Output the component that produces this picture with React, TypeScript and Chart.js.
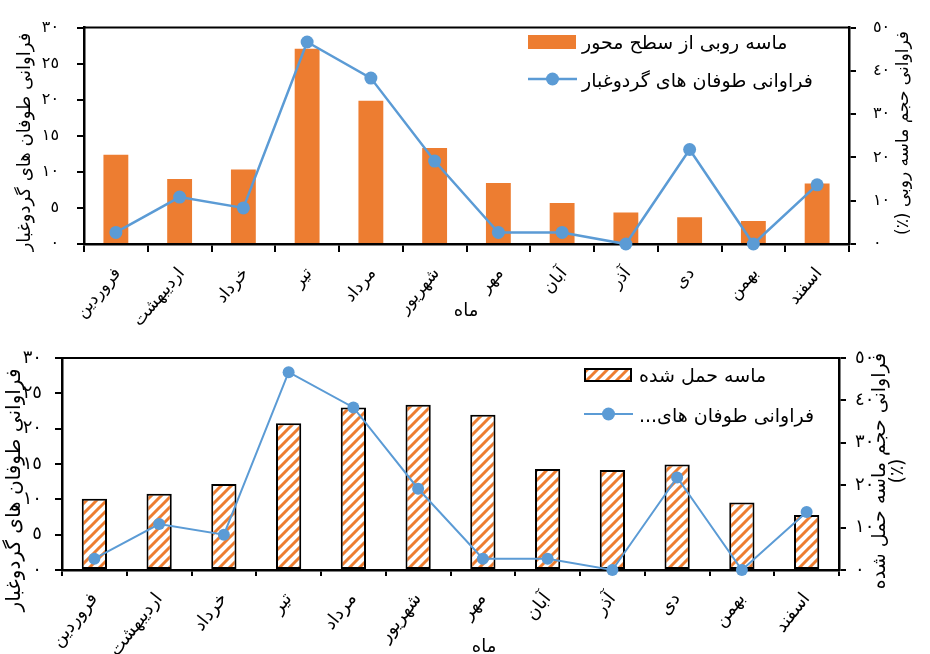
import React, { useEffect, useRef } from 'react';
import { Chart, registerables } from 'chart.js';

Chart.register(...registerables);

// ---- data ----
const months = ['فروردین', 'اردیبهشت', 'خرداد', 'تیر', 'مرداد', 'شهریور', 'مهر', 'آبان', 'آذر', 'دی', 'بهمن', 'اسفند'];
const stormFrequency = [1.6, 6.5, 5, 28, 23, 11.5, 1.6, 1.6, 0, 13.1, 0, 8.2];
const surfaceSandRemoval = [20.6, 15.0, 17.2, 45.1, 33.1, 22.2, 14.1, 9.5, 7.3, 6.2, 5.3, 14.0];
const carriedSand = [16.8, 18.0, 20.3, 34.6, 38.3, 39.0, 36.6, 23.8, 23.6, 24.9, 15.9, 13.0];

const topBarLabel = 'ماسه روبی از سطح محور';
const topLineLabel = 'فراوانی طوفان های گردوغبار';
const botBarLabel = 'ماسه حمل شده';
const botLineLabel = 'فراوانی طوفان های...';
const leftTitle = 'فراوانی طوفان های گردوغبار';
const topRightTitle = 'فراوانی حجم ماسه روبی (٪)';
const botRightTitle1 = 'فراوانی حجم ماسه حمل شده';
const botRightTitle2 = '(٪)';
const xTitle = 'ماه';

const ORANGE = '#ED7D31';
const BLUE = '#5B9BD5';
const FONT = "'DejaVu Sans', 'Liberation Serif', serif";

const toFa = (v: number | string) => String(v).replace(/\d/g, (d) => '٠١٢٣٤٥٦٧٨٩'[+d]);

function makePattern(): CanvasPattern | string {
  const c = document.createElement('canvas');
  c.width = 10;
  c.height = 10;
  const g = c.getContext('2d');
  if (!g) return ORANGE;
  g.fillStyle = '#fff';
  g.fillRect(0, 0, 10, 10);
  g.strokeStyle = ORANGE;
  g.lineWidth = 3;
  g.beginPath();
  g.moveTo(0, 10); g.lineTo(10, 0);
  g.moveTo(-5, 5); g.lineTo(5, -5);
  g.moveTo(5, 15); g.lineTo(15, 5);
  g.stroke();
  return g.createPattern(c, 'repeat') || ORANGE;
}

function vText(ctx: CanvasRenderingContext2D, text: string, x: number, y: number, size: number) {
  ctx.save();
  ctx.translate(x, y);
  ctx.rotate(-Math.PI / 2);
  ctx.font = `${size}px ${FONT}`;
  (ctx as any).direction = 'rtl';
  ctx.textAlign = 'center';
  ctx.textBaseline = 'middle';
  ctx.fillStyle = '#000';
  ctx.fillText(text, 0, 0);
  ctx.restore();
}

function hText(ctx: CanvasRenderingContext2D, text: string, x: number, y: number, size: number, align: CanvasTextAlign) {
  ctx.save();
  ctx.font = `${size}px ${FONT}`;
  (ctx as any).direction = 'rtl';
  ctx.textAlign = align;
  ctx.textBaseline = 'middle';
  ctx.fillStyle = '#000';
  ctx.fillText(text, x, y);
  ctx.restore();
}

interface OverlayOpts {
  leftTitleX: number; leftTitleY: number; leftTitleSize: number;
  right1X: number; right1Y: number; right1Text: string;
  right2X?: number; right2Text?: string; rightSize: number;
  xTitleX: number; xTitleY: number;
  legX: number; legY1: number; legY2: number; legTextX: number; legSize: number;
  barLabel: string; lineLabel: string; barFill: any; barBorder: boolean; dotR: number; lineW: number;
}

function overlayPlugin(o: OverlayOpts) {
  return {
    id: 'overlay',
    afterDraw(chart: any) {
      const ctx: CanvasRenderingContext2D = chart.ctx;
      const a = chart.chartArea;
      ctx.save();
      ctx.strokeStyle = '#000';
      ctx.lineWidth = 2;
      ctx.beginPath();
      ctx.moveTo(a.left, a.top);
      ctx.lineTo(a.right, a.top);
      ctx.stroke();
      ctx.restore();
      vText(ctx, leftTitle, o.leftTitleX, o.leftTitleY, o.leftTitleSize);
      vText(ctx, o.right1Text, o.right1X, o.right1Y, o.rightSize);
      if (o.right2Text && o.right2X) vText(ctx, o.right2Text, o.right2X, o.right1Y, o.rightSize);
      hText(ctx, xTitle, o.xTitleX, o.xTitleY, 18, 'center');
      ctx.save();
      ctx.fillStyle = o.barFill;
      ctx.fillRect(o.legX, o.legY1 - 7, 48, 14);
      if (o.barBorder) {
        ctx.strokeStyle = '#000';
        ctx.lineWidth = 2;
        ctx.strokeRect(o.legX + 1, o.legY1 - 6, 46, 12);
      }
      ctx.strokeStyle = BLUE;
      ctx.lineWidth = o.lineW;
      ctx.beginPath();
      ctx.moveTo(o.legX, o.legY2);
      ctx.lineTo(o.legX + 49, o.legY2);
      ctx.stroke();
      ctx.fillStyle = BLUE;
      ctx.beginPath();
      ctx.arc(o.legX + 24.5, o.legY2, o.dotR, 0, Math.PI * 2);
      ctx.fill();
      ctx.restore();
      hText(ctx, o.barLabel, o.legTextX, o.legY1 + 2, o.legSize, 'left');
      hText(ctx, o.lineLabel, o.legTextX, o.legY2 + 3, o.legSize, 'left');
    },
  };
}

interface CfgOpts {
  barData: number[]; barLabel: string; lineLabel: string; barFill: any; barBorder: number;
  padTop: number; leftW: number; rightW: number; xH: number;
  leftPad: number; rightPad: number; xPad: number; xTick: number; xFont: number; yFont: number;
  xRot: number; xOffset: number;
  dotR: number; lineW: number; overlay: OverlayOpts;
}

function makeConfig(c: CfgOpts): any {
  const axisCommon = {
    border: { color: '#000', width: 2.5 },
  };
  return {
    type: 'bar',
    data: {
      labels: months,
      datasets: [
        {
          type: 'line',
          label: c.lineLabel,
          data: stormFrequency,
          yAxisID: 'y',
          borderColor: BLUE,
          backgroundColor: BLUE,
          borderWidth: c.lineW,
          pointRadius: c.dotR,
          pointBorderWidth: 0,
          pointBackgroundColor: BLUE,
          tension: 0,
          clip: false,
          order: 0,
        },
        {
          type: 'bar',
          label: c.barLabel,
          data: c.barData,
          yAxisID: 'y1',
          backgroundColor: c.barFill,
          borderColor: '#000',
          borderWidth: c.barBorder,
          borderSkipped: false,
          barPercentage: 0.39,
          categoryPercentage: 1,
          order: 1,
        },
      ],
    },
    options: {
      responsive: false,
      animation: false,
      events: [],
      layout: { padding: { top: c.padTop, left: 0, right: 0, bottom: 0 } },
      plugins: { legend: { display: false }, tooltip: { enabled: false } },
      scales: {
        x: {
          ...axisCommon,
          grid: { display: true, drawOnChartArea: false, drawTicks: true, tickLength: c.xTick, color: '#000', lineWidth: 2, offset: true },
          ticks: { color: '#000', font: { size: c.xFont, family: FONT }, minRotation: c.xRot, maxRotation: c.xRot, autoSkip: false, padding: c.xPad, labelOffset: c.xOffset },
          afterFit: (s: any) => { s.height = c.xH; },
        },
        y: {
          ...axisCommon,
          position: 'left',
          min: 0,
          max: 30,
          ticks: { stepSize: 5, color: '#000', font: { size: c.yFont, family: FONT }, padding: c.leftPad, callback: (v: any) => toFa(v) },
          grid: { drawOnChartArea: false, drawTicks: true, tickLength: 7, color: '#000', lineWidth: 2 },
          afterFit: (s: any) => { s.width = c.leftW; },
        },
        y1: {
          ...axisCommon,
          position: 'right',
          min: 0,
          max: 50,
          ticks: { stepSize: 10, color: '#000', font: { size: c.yFont, family: FONT }, padding: c.rightPad, callback: (v: any) => toFa(v) },
          grid: { drawOnChartArea: false, drawTicks: true, tickLength: 7, color: '#000', lineWidth: 2 },
          afterFit: (s: any) => { s.width = c.rightW; },
        },
      },
    },
    plugins: [overlayPlugin(c.overlay)],
  };
}

export default function App() {
  const topRef = useRef<HTMLCanvasElement>(null);
  const botRef = useRef<HTMLCanvasElement>(null);

  useEffect(() => {
    const pattern = makePattern();
    const top = new Chart(topRef.current as HTMLCanvasElement, makeConfig({
      barData: surfaceSandRemoval, barLabel: topBarLabel, lineLabel: topLineLabel, barFill: ORANGE, barBorder: 0,
      padTop: 24, leftW: 84, rightW: 81, xH: 83, leftPad: 18, rightPad: 17, xPad: 12, xTick: 8, xFont: 17, yFont: 16,
      xRot: 50, xOffset: 2,
      dotR: 6.5, lineW: 2.5,
      overlay: {
        leftTitleX: 25, leftTitleY: 142, leftTitleSize: 18,
        right1X: 904, right1Y: 133, right1Text: topRightTitle, rightSize: 17,
        xTitleX: 466, xTitleY: 311,
        legX: 528, legY1: 42, legY2: 79, legTextX: 582, legSize: 19,
        barLabel: topBarLabel, lineLabel: topLineLabel, barFill: ORANGE, barBorder: false, dotR: 6.5, lineW: 2.5,
      },
    }));
    const bot = new Chart(botRef.current as HTMLCanvasElement, makeConfig({
      barData: carriedSand, barLabel: botBarLabel, lineLabel: botLineLabel, barFill: pattern, barBorder: 2,
      padTop: 31, leftW: 62, rightW: 91, xH: 84, leftPad: 13, rightPad: 9, xPad: 13, xTick: 6, xFont: 18, yFont: 18,
      xRot: 52, xOffset: 0,
      dotR: 6, lineW: 2,
      overlay: {
        leftTitleX: 15, leftTitleY: 163, leftTitleSize: 20,
        right1X: 880, right1Y: 144, right1Text: botRightTitle1, right2X: 898, right2Text: botRightTitle2, rightSize: 19,
        xTitleX: 484, xTitleY: 320,
        legX: 584, legY1: 48, legY2: 87, legTextX: 639, legSize: 19,
        barLabel: botBarLabel, lineLabel: botLineLabel, barFill: pattern, barBorder: true, dotR: 6.5, lineW: 2,
      },
    }));
    return () => {
      top.destroy();
      bot.destroy();
    };
  }, []);

  return (
    <div style={{ position: 'absolute', left: 0, top: 0, width: 930, height: 654, background: '#fff', overflow: 'hidden' }}>
      <canvas ref={topRef} width={930} height={327} style={{ display: 'block', width: 930, height: 327 }} />
      <canvas ref={botRef} width={930} height={327} style={{ display: 'block', width: 930, height: 327 }} />
    </div>
  );
}
